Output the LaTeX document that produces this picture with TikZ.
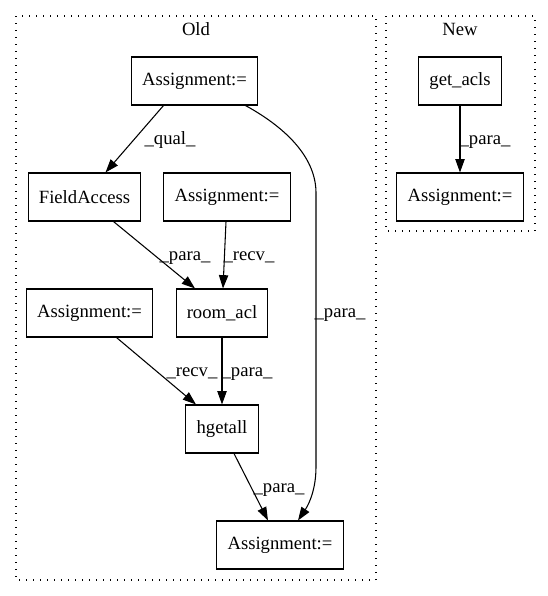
\documentclass[tikz,border=0pt]{standalone}
\usepackage{fontspec}
\setmainfont{Liberation Serif}
\usetikzlibrary{arrows.meta}
\tikzset{
    box/.style={draw, line width=0.8pt, minimum height=36pt, inner xsep=8pt, font=\fontsize{14}{16}\selectfont},
    lbl/.style={font=\fontsize{14}{16}\selectfont, inner sep=0pt, anchor=base},
    edge/.style={-{Triangle[length=10pt,width=7pt]}, line width=0.8pt},
    cluster/.style={line width=0.8pt, dash pattern=on 1pt off 4.25pt}
}
\begin{document}
\begin{tikzpicture}[x=0.75pt, y=-0.75pt]
    \useasboundingbox (0,0) rectangle (548,596);
    \draw[cluster] (16,16) rectangle (376,580);
    \draw[cluster] (386,16) rectangle (535,231);
    \node[lbl] (old) at (196,36) {Old};
    \node[lbl] (new) at (460,36) {New};

    \node[box] (asgtop) at (194.5,81) {Assignment:=};
    \node[box] (field) at (84.5,197) {FieldAccess};
    \node[box] (asgmid) at (227,197) {Assignment:=};
    \node[box] (asgleft) at (89.5,313) {Assignment:=};
    \node[box] (roomacl) at (222,313) {room\_acl};
    \node[box] (hgetall) at (222,429) {hgetall};
    \node[box] (asgbot) at (280,545) {Assignment:=};
    \node[box] (getacls) at (460,81) {get\_acls};
    \node[box] (asgnew) at (460,197) {Assignment:=};

    \draw[edge] ([shift={(-31,0)}]asgtop.south) -- ([shift={(21,0)}]field.north)
        node[lbl] at (170,144) {\_qual\_};
    \draw[edge] ([shift={(51,0)}]asgtop.south)
        .. controls (290,130) and (316,160) .. (316,193) -- (316,467)
        .. controls (316,495) and (305,510) .. ([shift={(18,0)}]asgbot.north)
        node[lbl] at (340,317) {\_para\_};
    \draw[edge] ([shift={(29,0)}]field.south) -- ([shift={(-27,0)}]roomacl.north)
        node[lbl] at (185,260) {\_para\_};
    \draw[edge] ([shift={(-1,0)}]asgmid.south) -- ([shift={(1,0)}]roomacl.north)
        node[lbl] at (249,260) {\_recv\_};
    \draw[edge] ([shift={(27,0)}]asgleft.south) -- ([shift={(-26,0)}]hgetall.north)
        node[lbl] at (192,376) {\_recv\_};
    \draw[edge] (roomacl) -- (hgetall)
        node[lbl] at (247,376) {\_para\_};
    \draw[edge] ([shift={(12,0)}]hgetall.south) -- ([shift={(-12,0)}]asgbot.north)
        node[lbl] at (279,492) {\_para\_};
    \draw[edge] (getacls) -- (asgnew)
        node[lbl] at (485,144) {\_para\_};
\end{tikzpicture}
\end{document}
